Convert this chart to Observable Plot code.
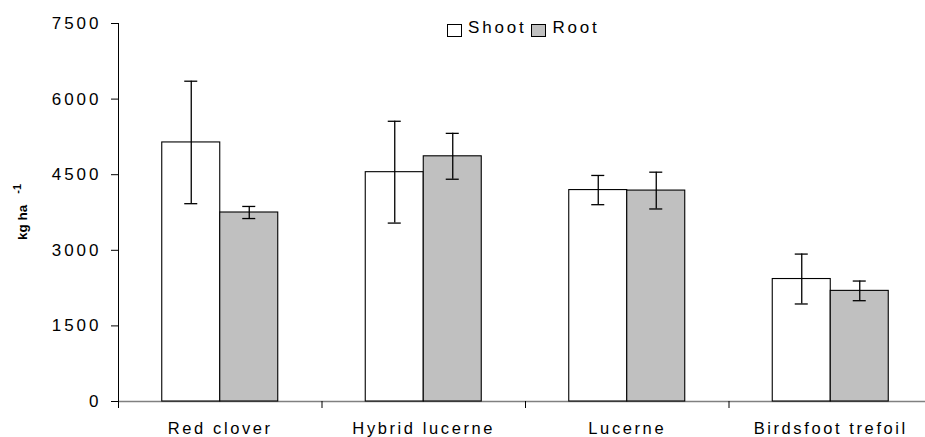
<!DOCTYPE html>
<html>
<head>
<meta charset="utf-8">
<script src="https://cdn.jsdelivr.net/npm/d3@7"></script>
<script src="https://cdn.jsdelivr.net/npm/@observablehq/plot@0.6"></script>
<style>
  html, body { margin: 0; padding: 0; background: #fff; overflow: hidden; }
  #wrap { position: relative; width: 925px; height: 437px; }
  #chart svg { display: block; max-width: none; }
  #chart [aria-label="y-axis tick label"] text { letter-spacing: 3px; }
  #chart [aria-label="x-axis tick label"] text { letter-spacing: 2.6px; }
  #legend {
    position: absolute; top: 18px; left: 447px;
    font-family: "Liberation Sans", Arial, sans-serif; font-size: 17px;
    letter-spacing: 2.8px; color: #000; display: flex; align-items: center;
    white-space: nowrap;
  }
  #legend .item { display: flex; align-items: center; margin-right: 5px; }
  #legend .box {
    display: inline-block; width: 13px; height: 11px; border: 1px solid #000;
    margin-right: 6px; margin-top: 4px;
  }
</style>
</head>
<body>
<div id="wrap">
  <div id="chart"></div>
  <div id="legend"></div>
</div>
<script>
// Dry matter yield of shoots and roots for four forage legumes (kg/ha, mean ± SE)
const categories = ["Red clover", "Hybrid lucerne", "Lucerne", "Birdsfoot trefoil"];
const series = ["Shoot", "Root"];
const seriesColors = ["#ffffff", "#c0c0c0"];
const shootMean = [5140, 4550, 4195, 2430];
const shootErr = [1215, 1010, 290, 495];
const rootMean = [3750, 4865, 4185, 2195];
const rootErr = [120, 455, 365, 195];
const yTicks = [0, 1500, 3000, 4500, 6000, 7500];

// Layout of a category slot (one unit wide on the x scale)
const groupInset = 0.215;   // gap before the first bar of a group
const barWidth = 0.285;     // width of one bar
const capHalf = 0.032;      // half-width of the error-bar caps

const rows = [];
categories.forEach((c, i) => {
  [[shootMean, shootErr], [rootMean, rootErr]].forEach(([m, e], s) => {
    const x1 = i + groupInset + s * barWidth;
    rows.push({
      category: c, series: series[s], mean: m[i], err: e[i],
      x1, x2: x1 + barWidth, cx: x1 + barWidth / 2
    });
  });
});

const font = '"Liberation Sans", Arial, sans-serif';

const chart = Plot.plot({
  width: 932,
  height: 437,
  marginLeft: 118,
  marginRight: 0,
  marginTop: 23,
  marginBottom: 36,
  style: { fontFamily: font, background: "transparent", color: "#000" },
  x: { domain: [0, categories.length], axis: null },
  y: { domain: [0, 7500], axis: null },
  color: { domain: series, range: seriesColors },
  marks: [
    Plot.ruleY([0], { stroke: "#808080", strokeWidth: 1.5 }),
    Plot.rectY(rows, {
      x1: "x1", x2: "x2", y1: 0, y2: "mean",
      fill: "series", stroke: "#000", strokeWidth: 1.1
    }),
    Plot.ruleX(rows, {
      x: "cx", y1: d => d.mean - d.err, y2: d => d.mean + d.err,
      stroke: "#000", strokeWidth: 1.3
    }),
    Plot.ruleY(rows, {
      y: d => d.mean + d.err, x1: d => d.cx - capHalf, x2: d => d.cx + capHalf,
      stroke: "#000", strokeWidth: 1.3
    }),
    Plot.ruleY(rows, {
      y: d => d.mean - d.err, x1: d => d.cx - capHalf, x2: d => d.cx + capHalf,
      stroke: "#000", strokeWidth: 1.3
    }),
    // y axis line and ticks
    Plot.ruleX([0], { y1: 0, y2: 7500, stroke: "#000" }),
    Plot.axisY({
      ticks: yTicks, tickSize: 7, tickPadding: 10, fontSize: 17,
      tickFormat: d => String(d), label: null
    }),
    // category boundary ticks below the baseline
    Plot.axisX({
      ticks: d3.range(categories.length + 1), tickSize: 7,
      tickFormat: () => "", label: null
    }),
    // category labels centred in each slot
    Plot.axisX({
      ticks: categories.map((c, i) => i + 0.5), tickSize: 0, tickPadding: 21,
      fontSize: 16.5, tickFormat: d => categories[Math.floor(d)], label: null
    })
  ]
});

// y-axis title with a superscript exponent
const ylab = d3.select(chart).append("text")
  .attr("transform", "translate(27,240) rotate(-90)")
  .style("text-anchor", "start")
  .style("font-family", font)
  .style("font-size", "13.5px")
  .style("font-weight", "bold")
  .style("fill", "#000");
ylab.append("tspan").text("kg ha");
ylab.append("tspan").attr("dx", 11).attr("dy", -6).style("font-size", "11px").text("-1");

document.getElementById("chart").appendChild(chart);

// Legend
const legend = d3.select("#legend");
series.forEach((s, i) => {
  const item = legend.append("span").attr("class", "item");
  item.append("span").attr("class", "box").style("background", seriesColors[i]);
  item.append("span").text(s);
});
</script>
</body>
</html>
